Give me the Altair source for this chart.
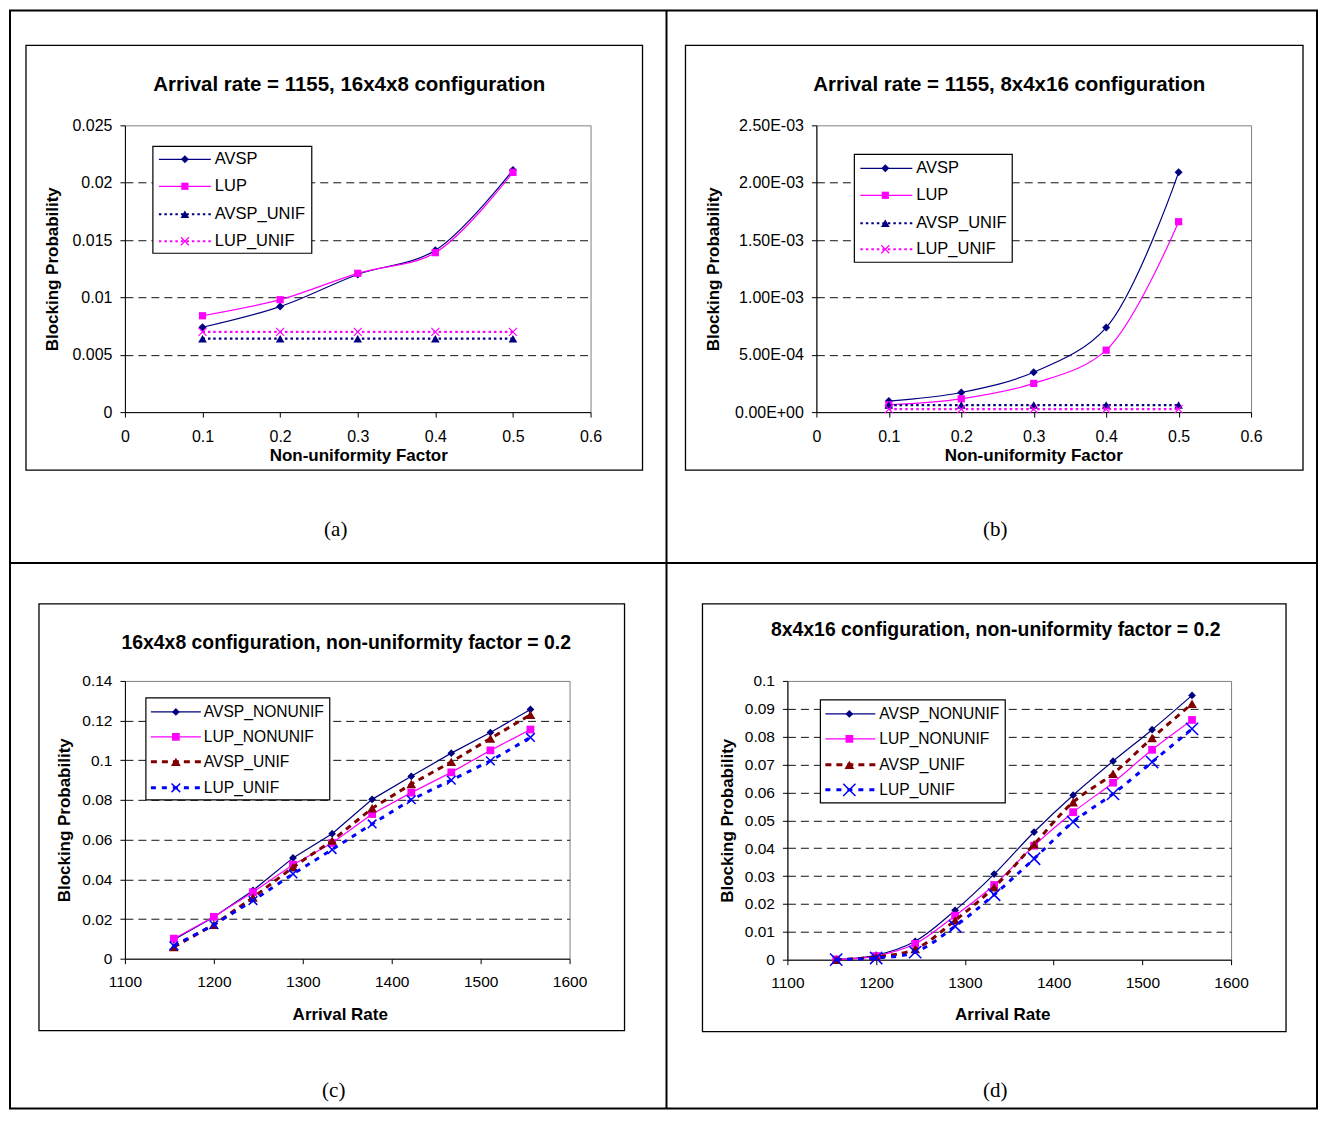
import altair as alt
import pandas as pd

FONT = "Liberation Sans"
SERIF = "Liberation Serif"

# ---------------- data ----------------
NUF = [0.1, 0.2, 0.3, 0.4, 0.5]
A_AVSP = [0.0074, 0.0092, 0.0120, 0.0141, 0.0211]
A_LUP = [0.0084, 0.0098, 0.0121, 0.0139, 0.0209]
A_AVSP_UNIF = [0.0064, 0.0064, 0.0064, 0.0064, 0.0064]
A_LUP_UNIF = [0.0070, 0.0070, 0.0070, 0.0070, 0.0070]

B_AVSP = [9.6e-5, 1.71e-4, 3.48e-4, 7.37e-4, 2.09e-3]
B_LUP = [6.4e-5, 1.16e-4, 2.50e-4, 5.40e-4, 1.66e-3]
B_AVSP_UNIF = [6.1e-5, 6.1e-5, 6.1e-5, 6.1e-5, 6.1e-5]
B_LUP_UNIF = [2.6e-5, 2.6e-5, 2.6e-5, 2.6e-5, 2.6e-5]

RATES = [1155, 1200, 1244, 1289, 1333, 1378, 1422, 1467, 1511, 1556]
C_AVSP_NONUNIF = [0.0096, 0.0210, 0.0344, 0.0508, 0.0630, 0.0803, 0.0919, 0.1036, 0.1140, 0.1256]
C_LUP_NONUNIF = [0.0101, 0.0211, 0.0335, 0.0474, 0.0583, 0.0729, 0.0837, 0.0939, 0.1050, 0.1155]
C_AVSP_UNIF = [0.0059, 0.0171, 0.0308, 0.0461, 0.0595, 0.0758, 0.0880, 0.0992, 0.1110, 0.1229]
C_LUP_UNIF = [0.0065, 0.0171, 0.0293, 0.0427, 0.0550, 0.0679, 0.0801, 0.0900, 0.0997, 0.1115]

D_AVSP_NONUNIF = [0.0001, 0.0016, 0.0066, 0.0177, 0.0307, 0.0458, 0.0590, 0.0712, 0.0825, 0.0948]
D_LUP_NONUNIF = [0.0001, 0.0013, 0.0057, 0.0158, 0.0268, 0.0409, 0.0529, 0.0635, 0.0753, 0.0860]
D_AVSP_UNIF = [0.0000, 0.0010, 0.0038, 0.0141, 0.0260, 0.0414, 0.0565, 0.0667, 0.0795, 0.0918]
D_LUP_UNIF = [0.0000, 0.0006, 0.0027, 0.0120, 0.0233, 0.0362, 0.0494, 0.0595, 0.0709, 0.0828]

NUF_TICKS = [0, 0.1, 0.2, 0.3, 0.4, 0.5, 0.6]
RATE_TICKS = [1100, 1200, 1300, 1400, 1500, 1600]
A_YTICKS = [0, 0.005, 0.01, 0.015, 0.02, 0.025]
B_YTICKS = [0, 0.0005, 0.001, 0.0015, 0.002, 0.0025]
C_YTICKS = [0, 0.02, 0.04, 0.06, 0.08, 0.1, 0.12, 0.14]
D_YTICKS = [0, 0.01, 0.02, 0.03, 0.04, 0.05, 0.06, 0.07, 0.08, 0.09, 0.1]

NAMES_AB = ["AVSP", "LUP", "AVSP_UNIF", "LUP_UNIF"]
NAMES_CD = ["AVSP_NONUNIF", "LUP_NONUNIF", "AVSP_UNIF", "LUP_UNIF"]
TITLES = [
    "Arrival rate = 1155, 16x4x8 configuration",
    "Arrival rate = 1155, 8x4x16 configuration",
    "16x4x8 configuration, non-uniformity factor = 0.2",
    "8x4x16 configuration, non-uniformity factor = 0.2",
]
XTITLES = ["Non-uniformity Factor", "Non-uniformity Factor", "Arrival Rate", "Arrival Rate"]
YTITLE = "Blocking Probability"
CAPTIONS = ["(a)", "(b)", "(c)", "(d)"]

# ---------------- styles ----------------
XPATH = "M-1,-1L1,1M-1,1L1,-1"
NAVY, MAG, DRED, BLUE = "#000080", "#FF00FF", "#800000", "#0000FF"

STY_AB = {
    "AVSP": dict(color=NAVY, lw=1.2, dash=None, shape="diamond", filled=True, size=64, pw=1),
    "LUP": dict(color=MAG, lw=1.2, dash=None, shape="square", filled=True, size=52, pw=1),
    "AVSP_UNIF": dict(color=NAVY, lw=2.2, dash=[2.5, 3], shape="triangle-up", filled=True, size=75, pw=1),
    "LUP_UNIF": dict(color=MAG, lw=2.2, dash=[2.5, 3], shape=XPATH, filled=False, size=64, pw=1.2),
}
STY_C = {
    "AVSP_NONUNIF": dict(color=NAVY, lw=1.2, dash=None, shape="diamond", filled=True, size=60, pw=1),
    "LUP_NONUNIF": dict(color=MAG, lw=1.2, dash=None, shape="square", filled=True, size=60, pw=1),
    "AVSP_UNIF": dict(color=DRED, lw=3, dash=[6, 5], shape="triangle-up", filled=True, size=95, pw=1),
    "LUP_UNIF": dict(color=BLUE, lw=3, dash=[5, 6], shape=XPATH, filled=False, size=75, pw=1.5),
}
STY_D = dict(STY_C)
STY_D["LUP_UNIF"] = dict(color=BLUE, lw=3, dash=[5, 6], shape=XPATH, filled=False, size=150, pw=1.5)


def long_df(xs, names, series):
    rows = []
    for n, ys in zip(names, series):
        for x, y in zip(xs, ys):
            rows.append({"x": x, "y": y, "s": n})
    return pd.DataFrame(rows)


def one():
    return alt.Data(values=[{"k": 0}])


def deco_rect(x1, x2, y1, y2, stroke="black", sw=1.3, fill=None):
    kw = dict(stroke=stroke, strokeWidth=sw)
    if fill:
        kw["fill"] = fill
    else:
        kw["fillOpacity"] = 0
    return alt.Chart(one()).mark_rect(**kw).encode(
        x=alt.value(x1), x2=alt.value(x2), y=alt.value(y1), y2=alt.value(y2))


def deco_rule(x1, x2, y1, y2, sw=2):
    return alt.Chart(one()).mark_rule(color="black", strokeWidth=sw).encode(
        x=alt.value(x1), x2=alt.value(x2), y=alt.value(y1), y2=alt.value(y2))


def text_at(x, y, s, font=FONT, size=16, weight="normal", align="center"):
    return alt.Chart(one()).mark_text(
        align=align, baseline="middle", font=font, fontSize=size, fontWeight=weight,
        color="black").encode(x=alt.value(x), y=alt.value(y), text=alt.value(s))


def panel(p):
    w, h = p["w"], p["h"]
    df = long_df(p["xs"], p["names"], p["series"])
    ymax = p["ydom"][1]
    xscale = alt.Scale(domain=p["xdom"], nice=False, zero=False)
    yscale = alt.Scale(domain=p["ydom"], nice=False, zero=False)
    xaxis = alt.Axis(
        values=p["xticks"], format=p["xfmt"], labelFont=FONT, labelFontSize=p["lfs"],
        labelColor="black", labelPadding=11, labelFlush=False, labelOverlap=False,
        tickSize=5, tickColor="black", domainColor="black", grid=False,
        title=p["xtitle"], titleFont=FONT, titleFontSize=17, titleFontWeight="bold",
        titleColor="black", titleX=p["xtx"], titleY=p["xty"], titleBaseline="middle",
        titleAlign="center")
    yaxis_kw = dict(
        values=p["yticks"], labelFont=FONT, labelFontSize=p["lfs"],
        labelColor="black", labelPadding=8, labelFlush=False, labelOverlap=False,
        tickSize=5, tickColor="black", domainColor="black", grid=True,
        gridDash=[8, 5], gridColor="#111111", gridWidth=1,
        gridOpacity={"condition": {"test": f"datum.value <= 0 || datum.value >= {ymax * 0.999}",
                                   "value": 0}, "value": 1},
        title=YTITLE, titleFont=FONT, titleFontSize=17, titleFontWeight="bold",
        titleColor="black", titleX=p["ytx"], titleY=h / 2, titleBaseline="middle",
        titleAlign="center", titleAngle=270)
    if p.get("yexpr"):
        yaxis_kw["labelExpr"] = p["yexpr"]
    else:
        yaxis_kw["format"] = p["yfmt"]
    yaxis = alt.Axis(**yaxis_kw)

    layers = []
    for deco in p.get("frame", []):
        layers.append(deco)
    bx = p["box"]
    layers.append(deco_rect(bx[0], bx[1], bx[2], bx[3], sw=1.3))

    enc = dict(x=alt.X("x:Q", scale=xscale, axis=xaxis),
               y=alt.Y("y:Q", scale=yscale, axis=yaxis))
    for name in p["names"]:
        st = p["sty"][name]
        base = alt.Chart(df).transform_filter(alt.datum.s == name)
        lkw = dict(color=st["color"], strokeWidth=st["lw"], interpolate=p["interp"])
        if st["dash"]:
            lkw["strokeDash"] = st["dash"]
        layers.append(base.mark_line(**lkw).encode(**enc))
        layers.append(base.mark_point(shape=st["shape"], filled=st["filled"], size=st["size"],
                                      color=st["color"], strokeWidth=st["pw"], opacity=1).encode(**enc))

    # legend
    lg = p["legend"]
    layers.append(deco_rect(lg["box"][0], lg["box"][1], lg["box"][2], lg["box"][3],
                            sw=1.2, fill="white"))
    for i, name in enumerate(p["names"]):
        st = p["sty"][name]
        ey = lg["ys"][i]
        rkw = dict(color=st["color"], strokeWidth=st["lw"])
        if st["dash"]:
            rkw["strokeDash"] = st["dash"]
        layers.append(alt.Chart(one()).mark_rule(**rkw).encode(
            x=alt.value(lg["lx"][0]), x2=alt.value(lg["lx"][1]), y=alt.value(ey)))
        layers.append(alt.Chart(one()).mark_point(
            shape=st["shape"], filled=st["filled"], size=st["size"], color=st["color"],
            strokeWidth=st["pw"], opacity=1).encode(x=alt.value(lg["mx"]), y=alt.value(ey)))
        layers.append(text_at(lg["tx"], ey, name, size=lg["fs"], align="left"))

    # chart title and caption
    layers.append(text_at(p["tpos"][0], p["tpos"][1], p["title"], size=p["tfs"], weight="bold"))
    layers.append(text_at(p["cap"][0], p["cap"][1], p["caption"], font=SERIF, size=21))

    return alt.layer(*layers).properties(width=w, height=h)


EXPR_B = "replace(replace(format(datum.value, '.2e'), 'e-', 'E-0'), 'e+', 'E+0')"

# panel a carries the page frame (relative to plot-area origin at page 124,124);
# kept inside the 1327x1124 window so the page never overflows
frame = [
    deco_rect(-115, 1193, -115, 984, sw=2),
    deco_rule(542, 542, -115, 984, sw=2),
    deco_rule(-115, 1193, 438, 438, sw=2),
]

pa = panel(dict(
    w=466, h=287, xs=NUF, names=NAMES_AB,
    series=[A_AVSP, A_LUP, A_AVSP_UNIF, A_LUP_UNIF], sty=STY_AB, interp="catmull-rom",
    xdom=[0, 0.6], ydom=[0, 0.025], xticks=NUF_TICKS, yticks=A_YTICKS,
    xfmt=".1~f", yfmt=".3~f", lfs=16, xtitle=XTITLES[0], xtx=233.5, xty=43, ytx=-72,
    box=(-99, 518, -80, 345), frame=frame,
    legend=dict(box=(28, 187, 21, 128), ys=[34, 61, 89, 116], lx=(34, 86), mx=60, tx=90, fs=16.5),
    tpos=(224.5, -40), tfs=20.5, cap=(211, 405), caption=CAPTIONS[0], title=TITLES[0]))

pb = panel(dict(
    w=435, h=287, xs=NUF, names=NAMES_AB,
    series=[B_AVSP, B_LUP, B_AVSP_UNIF, B_LUP_UNIF], sty=STY_AB, interp="catmull-rom",
    xdom=[0, 0.6], ydom=[0, 0.0025], xticks=NUF_TICKS, yticks=B_YTICKS,
    xfmt=".1~f", yexpr=EXPR_B, lfs=16, xtitle=XTITLES[1], xtx=217, xty=43, ytx=-103,
    box=(-131, 487, -80, 345),
    legend=dict(box=(38, 196, 29, 137), ys=[43, 70, 98, 124], lx=(44, 96), mx=69, tx=100, fs=16.5),
    tpos=(193, -40), tfs=20.5, cap=(179, 405), caption=CAPTIONS[1], title=TITLES[1]))

pc = panel(dict(
    w=445, h=278, xs=RATES, names=NAMES_CD,
    series=[C_AVSP_NONUNIF, C_LUP_NONUNIF, C_AVSP_UNIF, C_LUP_UNIF], sty=STY_C, interp="linear",
    xdom=[1100, 1600], ydom=[0, 0.14], xticks=RATE_TICKS, yticks=C_YTICKS,
    xfmt="d", yfmt=".2~f", lfs=15.5, xtitle=XTITLES[2], xtx=215, xty=56, ytx=-60,
    box=(-86, 500, -77, 350),
    legend=dict(box=(21, 205, 17, 119), ys=[31, 56, 81, 107], lx=(26, 76), mx=51, tx=79, fs=15.6),
    tpos=(221.5, -38), tfs=19.4, cap=(209, 410), caption=CAPTIONS[2], title=TITLES[2]))

pd_ = panel(dict(
    w=444, h=279, xs=RATES, names=NAMES_CD,
    series=[D_AVSP_NONUNIF, D_LUP_NONUNIF, D_AVSP_UNIF, D_LUP_UNIF], sty=STY_D, interp="catmull-rom",
    xdom=[1100, 1600], ydom=[0, 0.1], xticks=RATE_TICKS, yticks=D_YTICKS,
    xfmt="d", yfmt=".2~f", lfs=15.5, xtitle=XTITLES[3], xtx=215, xty=55, ytx=-59.5,
    box=(-85, 499, -77, 351),
    legend=dict(box=(33, 218, 19, 122), ys=[33, 58, 84, 109], lx=(38, 88), mx=62, tx=92, fs=15.6),
    tpos=(208.5, -51), tfs=19.4, cap=(208, 410), caption=CAPTIONS[3], title=TITLES[3]))

row1 = alt.hconcat(pa, pb, spacing=226, bounds="flush")
row2 = alt.hconcat(pc, pd_, spacing=218, bounds="flush")
# nested concat groups count as zero-size under flush bounds: spacing is row-top to row-top
chart = alt.vconcat(row1, row2, spacing=556, bounds="flush").properties(
    padding=0, background="white"
).configure_view(stroke="#808080", strokeWidth=1)

chart.save("out.html", embed_options={"renderer": "svg", "actions": False})
